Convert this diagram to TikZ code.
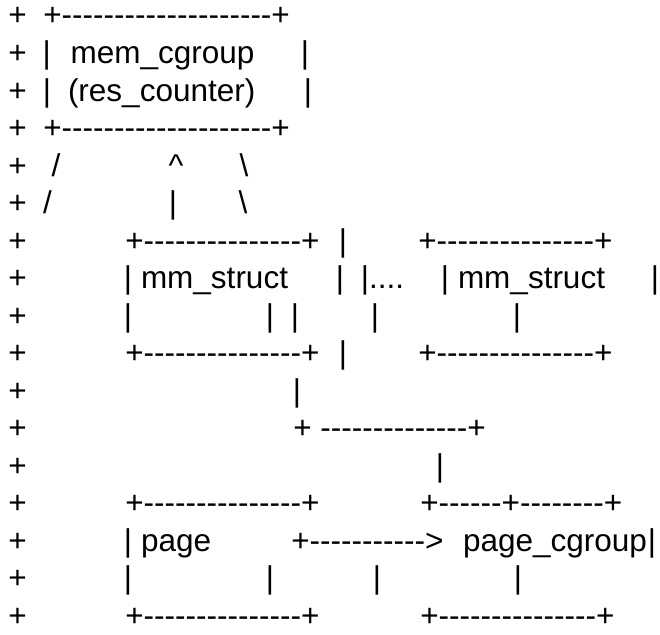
\documentclass[tikz,border=0pt]{standalone}
\usepackage{fontspec}
\newfontfamily\asc{Liberation Sans}[Ligatures=TeXOff]
\begin{document}
\begin{tikzpicture}[x=1pt,y=-1pt,
  txt/.style={inner sep=0pt, outer sep=0pt, font=\asc\fontsize{31.5}{35}\selectfont, anchor=base west},
  ch/.style={txt, anchor=base}]
\fill[white] (0,0) rectangle (660,634);
\useasboundingbox (0,0) rectangle (660,634);
% baseline of text row #1
\def\Y#1{26+37.5*(#1-1)}
% the column of leading plus signs
\foreach \i in {1,...,17}{
  \node[ch] (plus\i) at (17.5,{\Y{\i}}) {+};
}
% mem_cgroup box
\node[txt] (topA) at (43.3,{\Y{1}}) {+--------------------+};
\node[ch]  (r2a) at (46.7,{\Y{2}}) {|};
\node[txt] (memcg) at (70.6,{\Y{2}}) {mem\_cgroup};
\node[ch]  (r2b) at (305,{\Y{2}}) {|};
\node[ch]  (r3a) at (47,{\Y{3}}) {|};
\node[txt] (resc) at (68,{\Y{3}}) {(res\_counter)};
\node[ch]  (r3b) at (308,{\Y{3}}) {|};
\node[txt] (topB) at (43.3,{\Y{4}}) {+--------------------+};
% links below the box
\node[ch] (r5a) at (56,{\Y{5}}) {/};
\node[ch] (r5b) at (176,{\Y{5}}) {\textasciicircum};
\node[ch] (r5c) at (244,{\Y{5}}) {\textbackslash};
\node[ch] (r6a) at (47.5,{\Y{6}}) {/};
\node[ch] (r6b) at (173,{\Y{6}}) {|};
\node[ch] (r6c) at (243,{\Y{6}}) {\textbackslash};
% two mm_struct boxes
\node[txt] (mmL1) at (125.3,{\Y{7}}) {+---------------+};
\node[ch]  (r7a) at (343,{\Y{7}}) {|};
\node[txt] (mmR1) at (418.3,{\Y{7}}) {+---------------+};
\node[ch]  (r8a) at (128,{\Y{8}}) {|};
\node[txt] (mmL) at (141,{\Y{8}}) {mm\_struct};
\node[ch]  (r8b) at (340,{\Y{8}}) {|};
\node[txt] (r8c) at (360.9,{\Y{8}}) {|....};
\node[ch]  (r8d) at (445,{\Y{8}}) {|};
\node[txt] (mmR) at (458,{\Y{8}}) {mm\_struct};
\node[ch]  (r8e) at (655,{\Y{8}}) {|};
\node[ch]  (r9a) at (128,{\Y{9}}) {|};
\node[ch]  (r9b) at (270,{\Y{9}}) {|};
\node[ch]  (r9c) at (295,{\Y{9}}) {|};
\node[ch]  (r9d) at (375,{\Y{9}}) {|};
\node[ch]  (r9e) at (517,{\Y{9}}) {|};
\node[txt] (mmL2) at (125.3,{\Y{10}}) {+---------------+};
\node[ch]  (r10a) at (343,{\Y{10}}) {|};
\node[txt] (mmR2) at (418.3,{\Y{10}}) {+---------------+};
% route down to the page_cgroup box
\node[ch]  (r11a) at (297,{\Y{11}}) {|};
\node[txt] (r12a) at (293.3,{\Y{12}}) {+ --------------+};
\node[ch]  (r13a) at (440,{\Y{13}}) {|};
% page and page_cgroup boxes
\node[txt] (pgL1) at (125.3,{\Y{14}}) {+---------------+};
\node[txt] (pgR1) at (420.3,{\Y{14}}) {+------+--------+};
\node[ch]  (r15a) at (128,{\Y{15}}) {|};
\node[txt] (page) at (141,{\Y{15}}) {page};
\node[txt] (arr) at (291.3,{\Y{15}}) {+----------->};
\node[txt] (pcg) at (463,{\Y{15}}) {page\_cgroup};
\node[ch]  (r15b) at (652,{\Y{15}}) {|};
\node[ch]  (r16a) at (128,{\Y{16}}) {|};
\node[ch]  (r16b) at (270,{\Y{16}}) {|};
\node[ch]  (r16c) at (377,{\Y{16}}) {|};
\node[ch]  (r16d) at (518,{\Y{16}}) {|};
\node[txt] (pgL2) at (125.3,{\Y{17}}) {+---------------+};
\node[txt] (pgR2) at (420.3,{\Y{17}}) {+---------------+};
\end{tikzpicture}
\end{document}
